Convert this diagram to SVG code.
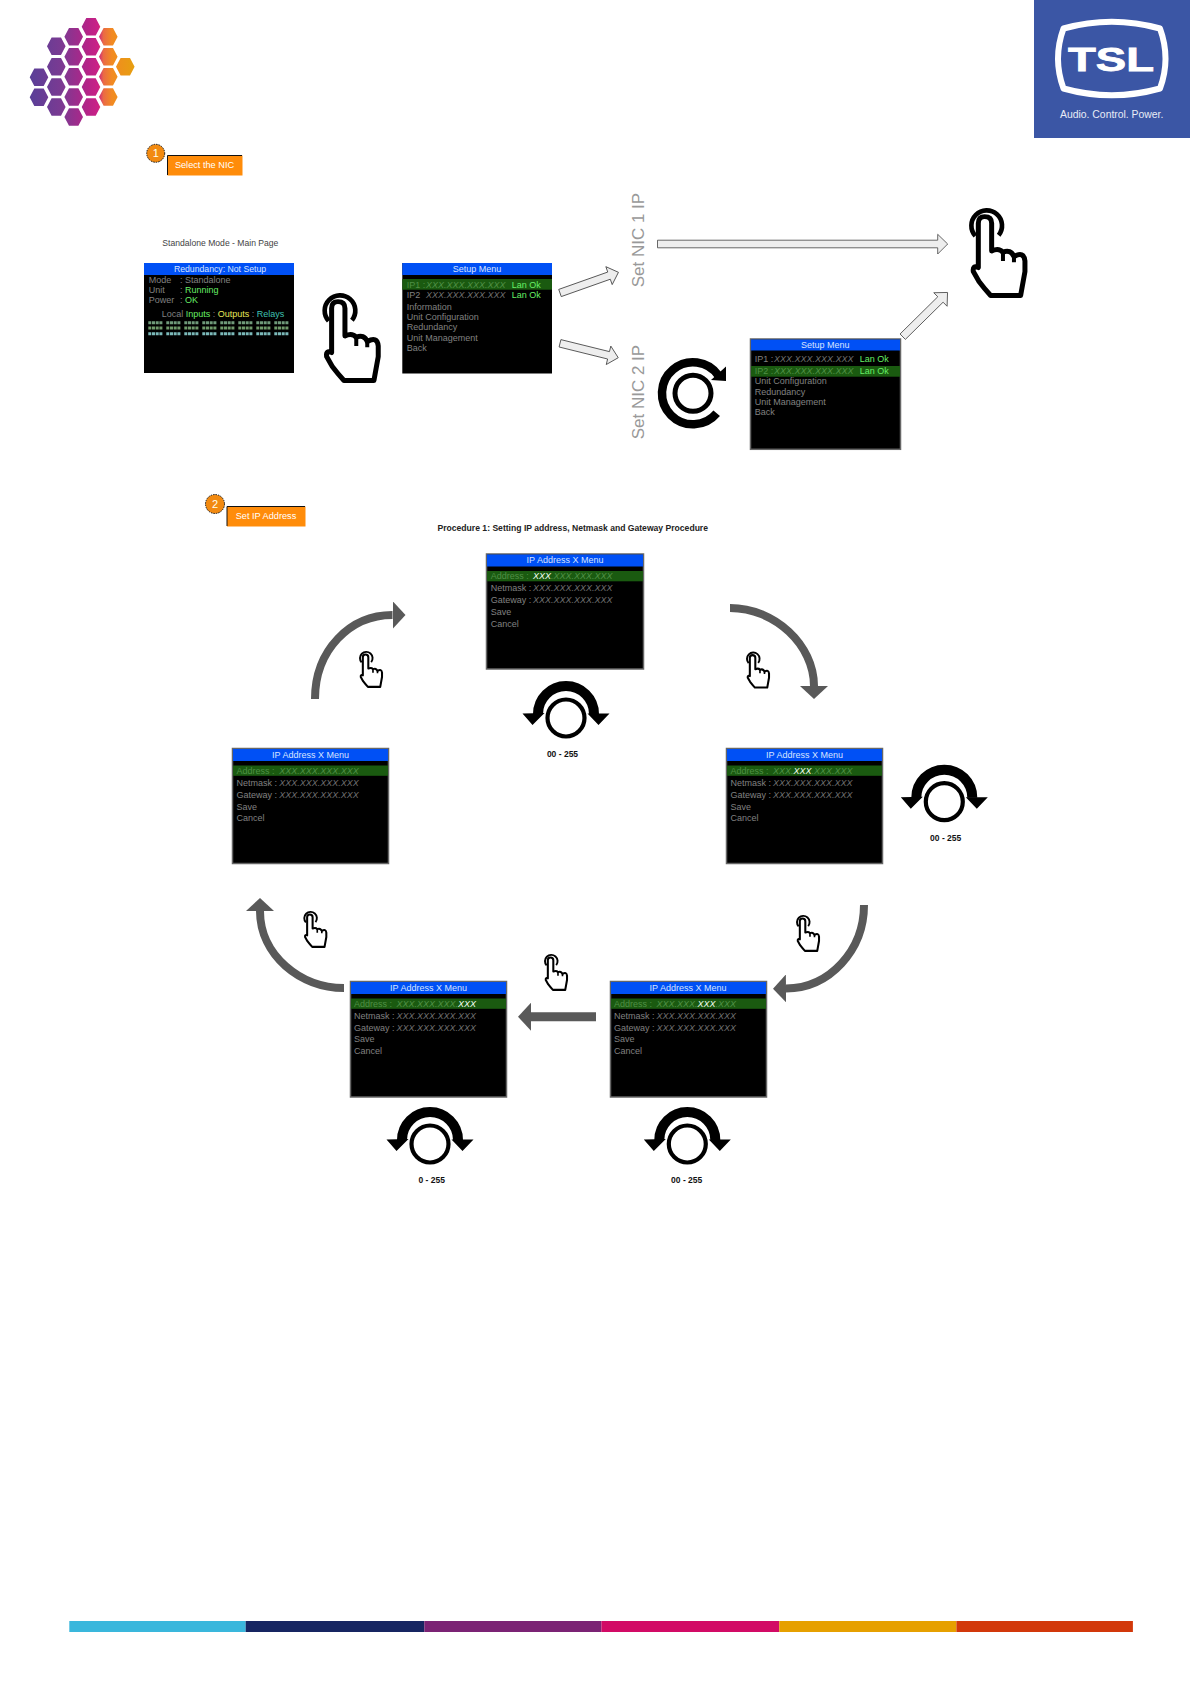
<svg xmlns="http://www.w3.org/2000/svg" width="1190" height="1684" viewBox="0 0 1190 1684">
<style>
text{font-family:"Liberation Sans",Arial,sans-serif;font-size:9px;fill:#808080}
.scr{fill:#000}
.ip{stroke:#666;stroke-width:1.5}
.hd{fill:#0050f5}
.bar{fill:#1a5a10}
.t{fill:#d8e4ff;text-anchor:middle}
.dim{fill:#4f8f45}
.x{font-style:italic;fill:#6f6f6f}
.xd{font-style:italic;fill:#4f8f45}
.hi{fill:#f2fff2;font-style:italic}
.ok{fill:#66ee66}
.yl{fill:#e6e65a}
.tl{fill:#3fc0b0}
.val{fill:#111;font-weight:700;font-size:8.5px;text-anchor:middle}
.nic{font-size:17px;fill:#999}
.btn{fill:#ff8c0a}
.btl{fill:none;stroke:#111;stroke-width:1}
.btt{fill:#fff;font-size:9.2px;text-anchor:middle}
.bad{fill:#f28a10;stroke:#111;stroke-width:1;stroke-dasharray:1.5 1}
.grey{fill:none;stroke:#595959;stroke-width:8;marker-end:url(#gh)}
.lt{fill:#eeeeee;stroke:#444;stroke-width:.8}
.led{stroke-width:3;stroke-dasharray:3 .7 3 .7 3 .7 3 3.9;fill:none}
</style>
<defs>
<linearGradient id="hex" gradientUnits="userSpaceOnUse" x1="30" y1="0" x2="135" y2="0">
<stop offset="0" stop-color="#5a3f98"/><stop offset=".3" stop-color="#7b3a92"/><stop offset=".55" stop-color="#b52388"/><stop offset=".65" stop-color="#cc2086"/><stop offset=".7" stop-color="#ea6a45"/><stop offset=".78" stop-color="#f28a22"/><stop offset="1" stop-color="#e6a00f"/>
</linearGradient>
<marker id="gh" markerUnits="userSpaceOnUse" markerWidth="14" markerHeight="28" viewBox="0 0 14 28" refX="0" refY="14" orient="auto"><path d="M0 0L13 14L0 28z" fill="#595959"/></marker>
<g id="hand">
<path d="M19 83A46 46 0 1 1 89 81" fill="none" stroke="#000" stroke-width="14"/>
<path d="M28 178L28 45Q28 25 47 25Q68 25 68 45L68 128Q90 118 102 132Q125 122 135 145Q165 128 168 158L168 190L155 262L65 262Q45 240 30 220L13 190Q10 170 28 178Z" fill="#fff" stroke="#000" stroke-width="15" stroke-linejoin="round"/>
<path d="M102 132L102 158M135 145L135 162" fill="none" stroke="#000" stroke-width="12"/>
</g>
<g id="knob">
<circle r="18.5" fill="none" stroke="#000" stroke-width="4.2"/>
<path d="M-28 -4A28 28 0 0 1 28 -4" fill="none" stroke="#000" stroke-width="10"/>
<path d="M-43.5 -4.5L-21.5 -5L-33.5 7ZM43.5 -4.5L21.5 -4.5L32.5 7Z" fill="#000"/>
</g>
</defs>

<g id="hex-logo"><path fill="url(#hex)" d="M29.7 77.3l4.6-8.7h9.4l4.6 8.7l-4.6 8.7h-9.4zM29.7 97.3l4.6-8.7h9.4l4.6 8.7l-4.6 8.7h-9.4zM47 46.3l4.6-8.7h9.4l4.6 8.7l-4.6 8.7h-9.4zM47 66.7l4.6-8.7h9.4l4.6 8.7l-4.6 8.7h-9.4zM47 87l4.6-8.7h9.4l4.6 8.7l-4.6 8.7h-9.4zM47 107l4.6-8.7h9.4l4.6 8.7l-4.6 8.7h-9.4zM64.4 36.7l4.6-8.7h9.4l4.6 8.7l-4.6 8.7h-9.4zM64.4 56.7l4.6-8.7h9.4l4.6 8.7l-4.6 8.7h-9.4zM64.4 76.7l4.6-8.7h9.4l4.6 8.7l-4.6 8.7h-9.4zM64.4 97l4.6-8.7h9.4l4.6 8.7l-4.6 8.7h-9.4zM64.4 117l4.6-8.7h9.4l4.6 8.7l-4.6 8.7h-9.4zM81.7 26.7l4.6-8.7h9.4l4.6 8.7l-4.6 8.7h-9.4zM81.7 46.7l4.6-8.7h9.4l4.6 8.7l-4.6 8.7h-9.4zM81.7 66.7l4.6-8.7h9.4l4.6 8.7l-4.6 8.7h-9.4zM81.7 87l4.6-8.7h9.4l4.6 8.7l-4.6 8.7h-9.4zM81.7 107l4.6-8.7h9.4l4.6 8.7l-4.6 8.7h-9.4zM99 36.7l4.6-8.7h9.4l4.6 8.7l-4.6 8.7h-9.4zM99 56.7l4.6-8.7h9.4l4.6 8.7l-4.6 8.7h-9.4zM99 76.7l4.6-8.7h9.4l4.6 8.7l-4.6 8.7h-9.4zM99 97l4.6-8.7h9.4l4.6 8.7l-4.6 8.7h-9.4zM116 66.7l4.6-8.7h9.4l4.6 8.7l-4.6 8.7h-9.4z"/></g>

<g id="tsl-logo">
<rect x="1034" y="0" width="156" height="138" fill="#3b56a5"/>
<path d="M1063.5 28.5Q1111.7 15 1160 28.5Q1171 58.7 1160 88.5Q1111.7 102 1063.5 88.5Q1052.5 58.7 1063.5 28.5Z" fill="none" stroke="#fff" stroke-width="6" stroke-linejoin="round"/>
<text x="1068" y="70.5" textLength="86" lengthAdjust="spacingAndGlyphs" style="font-size:33.5px;font-weight:700;fill:#fff;stroke:#fff;stroke-width:.8">TSL</text>
<text x="1111.7" y="118.3" text-anchor="middle" style="font-size:10.4px;fill:#e8ecf6">Audio. Control. Power.</text>
</g>

<g id="step-1">
<rect class="btn" x="167.5" y="155.5" width="75" height="20"/><path class="btl" d="M167.5 175V155.5H242"/>
<text class="btt" x="204.5" y="167.8">Select the NIC</text>
<circle class="bad" cx="155.7" cy="153.3" r="9"/><text x="155.7" y="157.3" text-anchor="middle" style="font-size:11px;fill:#ffe">1</text>
</g>

<text x="162.3" y="245.7" style="font-size:8.6px;fill:#444">Standalone Mode - Main Page</text>

<g id="screen-main">
<rect class="scr" x="144" y="263" width="150" height="110"/><rect class="hd" x="144" y="263" width="150" height="12"/>
<text class="t" x="220" y="271.9" style="font-size:8.7px">Redundancy: Not Setup</text>
<text x="148.7" y="283.3">Mode</text><text x="180" y="283.3">: Standalone</text>
<text x="148.7" y="293.3">Unit</text><text x="180" y="293.3">: <tspan class="ok">Running</tspan></text>
<text x="148.7" y="303.3">Power</text><text x="180" y="303.3">: <tspan class="ok">OK</tspan></text>
<text x="161.7" y="317.3">Local <tspan class="ok">Inputs</tspan> : <tspan class="yl">Outputs</tspan> : <tspan class="tl">Relays</tspan></text>
<path class="led" stroke="#6f9a7a" d="M148.3 322.7H292"/><path class="led" stroke="#6f9a6a" d="M148.3 328H292"/><path class="led" stroke="#7bb9b9" d="M148.3 333.7H292"/>
</g>

<use id="hand-1" href="#hand" transform="translate(322.3 293.3) scale(.333)"/>

<g id="screen-setup-1">
<rect class="scr" x="402.3" y="263" width="149.7" height="110.5"/><rect class="hd" x="402.3" y="263" width="149.7" height="12"/>
<rect class="bar" x="402.3" y="279" width="149.7" height="10.7"/>
<text class="t" x="477" y="271.9">Setup Menu</text>
<text class="dim" x="406.7" y="287.5">IP1 :</text><text class="xd" x="426" y="287.5">XXX.XXX.XXX.XXX</text><text class="ok" x="511.7" y="287.5">Lan Ok</text>
<text x="406.7" y="298.3">IP2</text><text class="x" x="426" y="298.3">XXX.XXX.XXX.XXX</text><text class="ok" x="511.7" y="298.3">Lan Ok</text>
<text x="406.7" y="310">Information</text><text x="406.7" y="320">Unit Configuration</text><text x="406.7" y="330.3">Redundancy</text><text x="406.7" y="340.7">Unit Management</text><text x="406.7" y="350.7">Back</text>
</g>

<g id="label-nic-1"><text class="nic" transform="translate(644.3 287.3) rotate(-90)">Set NIC 1 IP</text></g>
<g id="label-nic-2"><text class="nic" transform="translate(644.3 439.3) rotate(-90)">Set NIC 2 IP</text></g>

<g id="rotate-icon">
<circle cx="693" cy="393.3" r="18" fill="none" stroke="#000" stroke-width="5"/>
<path d="M716.7 413.2A31 31 0 1 1 718.4 375.5" fill="none" stroke="#000" stroke-width="8.5"/>
<path d="M726 366.5V381L711 380Z" fill="#000"/>
</g>

<g id="screen-setup-2">
<rect class="scr ip" x="750.5" y="339" width="150" height="110.3"/><rect class="hd" x="751" y="339.5" width="149" height="11"/>
<rect class="bar" x="751" y="366" width="149" height="10.7"/>
<text class="t" x="825.3" y="347.8">Setup Menu</text>
<text x="754.7" y="362.3">IP1 :</text><text class="x" x="774" y="362.3">XXX.XXX.XXX.XXX</text><text class="ok" x="859.7" y="362.3">Lan Ok</text>
<text class="dim" x="754.7" y="374.3">IP2 :</text><text class="xd" x="774" y="374.3">XXX.XXX.XXX.XXX</text><text class="ok" x="859.7" y="374.3">Lan Ok</text>
<text x="754.7" y="384.3">Unit Configuration</text><text x="754.7" y="395">Redundancy</text><text x="754.7" y="405.3">Unit Management</text><text x="754.7" y="415.3">Back</text>
</g>

<use id="hand-2" href="#hand" transform="translate(969 208.3) scale(.333)"/>

<g id="step-2">
<rect class="btn" x="227" y="506.5" width="78.5" height="20"/><path class="btl" d="M227 526V506.5H305"/>
<text class="btt" x="266" y="518.8">Set IP Address</text>
<circle class="bad" cx="215" cy="504" r="9.5"/><text x="215" y="508" text-anchor="middle" style="font-size:11px;fill:#ffe">2</text>
</g>

<text x="437.5" y="531" textLength="270.5" lengthAdjust="spacingAndGlyphs" style="font-size:9.3px;font-weight:700;fill:#222">Procedure 1: Setting IP address, Netmask and Gateway Procedure</text>

<g id="screen-ip-top">
<rect class="scr ip" x="486.5" y="554" width="157" height="115"/><rect class="hd" x="487" y="554.5" width="156" height="12"/><rect class="bar" x="487" y="571" width="156" height="10.3"/>
<text class="t" x="565" y="563">IP Address X Menu</text>
<text class="dim" x="490.7" y="579">Address :</text><text class="xd" x="533" y="579"><tspan class="hi">XXX</tspan>.XXX.XXX.XXX</text>
<text x="490.7" y="591">Netmask :</text><text class="x" x="533" y="591">XXX.XXX.XXX.XXX</text>
<text x="490.7" y="603.3">Gateway :</text><text class="x" x="533" y="603.3">XXX.XXX.XXX.XXX</text>
<text x="490.7" y="615">Save</text><text x="490.7" y="626.7">Cancel</text>
</g>

<g id="screen-ip-right">
<rect class="scr ip" x="726.5" y="748.5" width="156" height="115"/><rect class="hd" x="727" y="749" width="155" height="12"/><rect class="bar" x="727" y="765.5" width="155" height="10.3"/>
<text class="t" x="804.5" y="757.5">IP Address X Menu</text>
<text class="dim" x="730.5" y="773.5">Address :</text><text class="xd" x="773" y="773.5">XXX.<tspan class="hi">XXX</tspan>.XXX.XXX</text>
<text x="730.5" y="785.5">Netmask :</text><text class="x" x="773" y="785.5">XXX.XXX.XXX.XXX</text>
<text x="730.5" y="797.8">Gateway :</text><text class="x" x="773" y="797.8">XXX.XXX.XXX.XXX</text>
<text x="730.5" y="809.5">Save</text><text x="730.5" y="821.2">Cancel</text>
</g>

<g id="screen-ip-left">
<rect class="scr ip" x="232.5" y="748.5" width="156" height="115"/><rect class="hd" x="233" y="749" width="155" height="12"/><rect class="bar" x="233" y="765.5" width="155" height="10.3"/>
<text class="t" x="310.5" y="757.5">IP Address X Menu</text>
<text class="dim" x="236.5" y="773.5">Address :</text><text class="xd" x="279.3" y="773.5">XXX.XXX.XXX.XXX</text>
<text x="236.5" y="785.5">Netmask :</text><text class="x" x="279.3" y="785.5">XXX.XXX.XXX.XXX</text>
<text x="236.5" y="797.8">Gateway :</text><text class="x" x="279.3" y="797.8">XXX.XXX.XXX.XXX</text>
<text x="236.5" y="809.5">Save</text><text x="236.5" y="821.2">Cancel</text>
</g>

<g id="screen-ip-bl">
<rect class="scr ip" x="350.5" y="981.5" width="156" height="115.5"/><rect class="hd" x="351" y="982" width="155" height="12"/><rect class="bar" x="351" y="998.5" width="155" height="10.3"/>
<text class="t" x="428.5" y="990.5">IP Address X Menu</text>
<text class="dim" x="354" y="1006.5">Address :</text><text class="xd" x="396.5" y="1006.5">XXX.XXX.XXX.<tspan class="hi">XXX</tspan></text>
<text x="354" y="1018.5">Netmask :</text><text class="x" x="396.5" y="1018.5">XXX.XXX.XXX.XXX</text>
<text x="354" y="1030.5">Gateway :</text><text class="x" x="396.5" y="1030.5">XXX.XXX.XXX.XXX</text>
<text x="354" y="1042">Save</text><text x="354" y="1054">Cancel</text>
</g>

<g id="screen-ip-br">
<rect class="scr ip" x="610.5" y="981.5" width="156" height="115.5"/><rect class="hd" x="611" y="982" width="155" height="12"/><rect class="bar" x="611" y="998.5" width="155" height="10.3"/>
<text class="t" x="688" y="990.5">IP Address X Menu</text>
<text class="dim" x="614" y="1006.5">Address :</text><text class="xd" x="656.5" y="1006.5">XXX.XXX.<tspan class="hi">XXX</tspan>.XXX</text>
<text x="614" y="1018.5">Netmask :</text><text class="x" x="656.5" y="1018.5">XXX.XXX.XXX.XXX</text>
<text x="614" y="1030.5">Gateway :</text><text class="x" x="656.5" y="1030.5">XXX.XXX.XXX.XXX</text>
<text x="614" y="1042">Save</text><text x="614" y="1054">Cancel</text>
</g>

<g id="knob-top"><use href="#knob" transform="translate(566 718)"/><text class="val" x="562.5" y="757">00 - 255</text></g>
<g id="knob-right"><use href="#knob" transform="translate(944.3 801.7)"/><text class="val" x="945.7" y="841">00 - 255</text></g>
<g id="knob-bl"><use href="#knob" transform="translate(430 1144)"/><text class="val" x="431.7" y="1182.7">0 - 255</text></g>
<g id="knob-br"><use href="#knob" transform="translate(687.3 1144)"/><text class="val" x="686.7" y="1182.7">00 - 255</text></g>

<g id="hands-small">
<use href="#hand" transform="translate(359 651) scale(.137)"/>
<use href="#hand" transform="translate(746 651.7) scale(.137)"/>
<use href="#hand" transform="translate(303.3 911) scale(.137)"/>
<use href="#hand" transform="translate(796 915) scale(.137)"/>
<use href="#hand" transform="translate(544 954) scale(.137)"/>
</g>

<g id="connectors">
<path class="lt" d="M657.5 240.2H937.7V234.3L947.7 244L937.7 254V247.8H657.5Z"/>
<path class="lt" transform="translate(560 293) rotate(-19.5)" d="M0 -3.8H52V-9.5L62 0L52 9.5V3.8H0Z"/>
<path class="lt" transform="translate(560 343.3) rotate(13.9)" d="M0 -3.8H50V-9.5L60 0L50 9.5V3.8H0Z"/>
<path class="lt" transform="translate(902.7 336.7) rotate(-44.6)" d="M0 -3.8H53V-9.5L63 0L53 9.5V3.8H0Z"/>
<path class="grey" d="M315 699C315 650 350 615 392.5 615"/>
<path class="grey" d="M730 608C775 608 814 645 814 686"/>
<path class="grey" d="M864 905C864 950 830 988 786 988.5"/>
<path class="grey" style="stroke-width:9" d="M596 1016.7H531"/>
<path class="grey" d="M344 988C300 988 260 955 260 911"/>
</g>

<g id="footer-bar">
<rect x="69.3" y="1621" width="176.4" height="11" fill="#3ab7dc"/>
<rect x="245.7" y="1621" width="178.6" height="11" fill="#162561"/>
<rect x="424.3" y="1621" width="177.1" height="11" fill="#7b2374"/>
<rect x="601.4" y="1621" width="177.9" height="11" fill="#d20a65"/>
<rect x="779.3" y="1621" width="177.1" height="11" fill="#e6a000"/>
<rect x="956.4" y="1621" width="176.5" height="11" fill="#d2380a"/>
</g>
</svg>
